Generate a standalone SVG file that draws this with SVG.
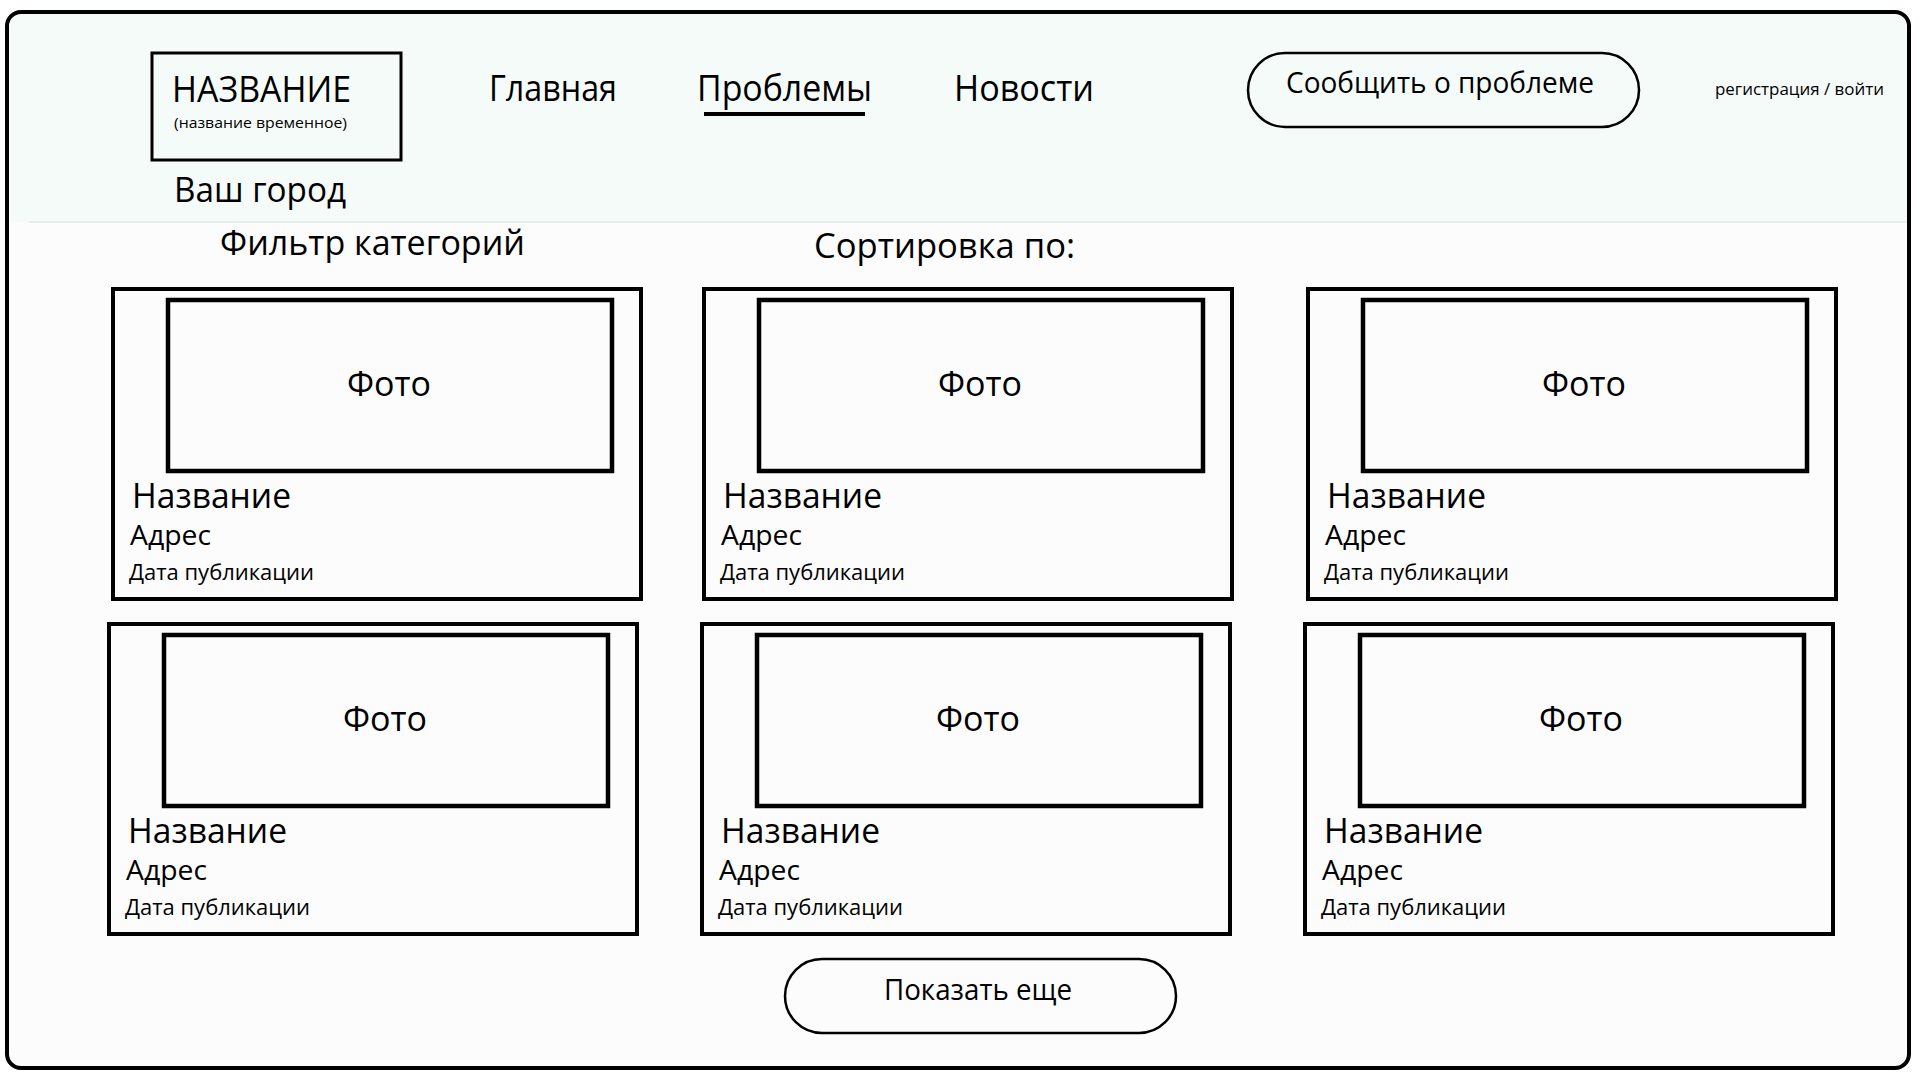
<svg xmlns="http://www.w3.org/2000/svg" width="1920" height="1080" viewBox="0 0 1920 1080">
<defs>
<style>
text{font-family:"Open Sans","Noto Sans","Liberation Sans",sans-serif;fill:#000;}
.card{fill:none;stroke:#000;stroke-width:4;}
.photo{fill:none;stroke:#000;stroke-width:4.5;}
.btn{fill:none;stroke:#000;stroke-width:2.5;}
.t-photo{font-size:34px;}
.t-name{font-size:35px;}
.t-addr{font-size:28px;}
.t-date{font-size:22px;}
.nav{font-size:36px;}
</style>
<g id="cardTpl">
<rect class="card" x="0" y="0" width="528" height="310"/>
<rect class="photo" x="55" y="11" width="444" height="171"/>
<text class="t-photo" x="234" y="107" textLength="84" lengthAdjust="spacingAndGlyphs">Фото</text>
<text class="t-name" x="19" y="219" textLength="159" lengthAdjust="spacingAndGlyphs">Название</text>
<text class="t-addr" x="17" y="256" textLength="81" lengthAdjust="spacingAndGlyphs">Адрес</text>
<text class="t-date" x="16" y="291" textLength="185" lengthAdjust="spacingAndGlyphs">Дата публикации</text>
</g>
</defs>
<rect x="0" y="0" width="1920" height="1080" fill="#ffffff"/>
<g id="frame">
<rect x="7" y="12" width="1902" height="1056" rx="14" fill="#fcfcfc"/>
<path d="M9 222 V26 Q9 14 21 14 H1895 Q1907 14 1907 26 V222 Z" fill="#f5fbf9"/>
<line x1="29" y1="222" x2="1907" y2="222" stroke="#e2e8e6" stroke-width="1.5"/>
<rect x="7" y="12" width="1902" height="1056" rx="14" fill="none" stroke="#000" stroke-width="4"/>
</g>
<g id="logo">
<rect x="152" y="53" width="249" height="107" fill="none" stroke="#000" stroke-width="3"/>
<text x="172" y="102" font-size="36" textLength="179" lengthAdjust="spacingAndGlyphs">НАЗВАНИЕ</text>
<text x="174" y="128" font-size="15" textLength="173" lengthAdjust="spacingAndGlyphs">(название временное)</text>
</g>
<g id="city"><text x="174" y="202" font-size="34" textLength="172" lengthAdjust="spacingAndGlyphs">Ваш город</text></g>
<g id="nav-main"><text class="nav" x="489" y="101" textLength="128" lengthAdjust="spacingAndGlyphs">Главная</text></g>
<g id="nav-problems">
<text class="nav" x="697" y="101" textLength="175" lengthAdjust="spacingAndGlyphs">Проблемы</text>
<rect x="704" y="112" width="161" height="4" fill="#000"/>
</g>
<g id="nav-news"><text class="nav" x="954" y="101" textLength="140" lengthAdjust="spacingAndGlyphs">Новости</text></g>
<g id="report-btn">
<rect class="btn" x="1248" y="53" width="391" height="74" rx="37"/>
<text x="1286" y="93" font-size="30" textLength="308" lengthAdjust="spacingAndGlyphs">Сообщить о проблеме</text>
</g>
<g id="auth"><text x="1715" y="95" font-size="17" textLength="169" lengthAdjust="spacingAndGlyphs">регистрация / войти</text></g>
<g id="filter"><text x="220" y="255" font-size="35" textLength="305" lengthAdjust="spacingAndGlyphs">Фильтр категорий</text></g>
<g id="sort"><text x="814" y="258" font-size="35" textLength="261" lengthAdjust="spacingAndGlyphs">Сортировка по:</text></g>
<g id="card1"><use href="#cardTpl" x="113" y="289"/></g>
<g id="card2"><use href="#cardTpl" x="704" y="289"/></g>
<g id="card3"><use href="#cardTpl" x="1308" y="289"/></g>
<g id="card4"><use href="#cardTpl" x="109" y="624"/></g>
<g id="card5"><use href="#cardTpl" x="702" y="624"/></g>
<g id="card6"><use href="#cardTpl" x="1305" y="624"/></g>
<g id="more-btn">
<rect class="btn" x="785" y="959" width="391" height="74" rx="37"/>
<text x="884" y="1000" font-size="30" textLength="188" lengthAdjust="spacingAndGlyphs">Показать еще</text>
</g>
<g id="connectors"></g>
</svg>
